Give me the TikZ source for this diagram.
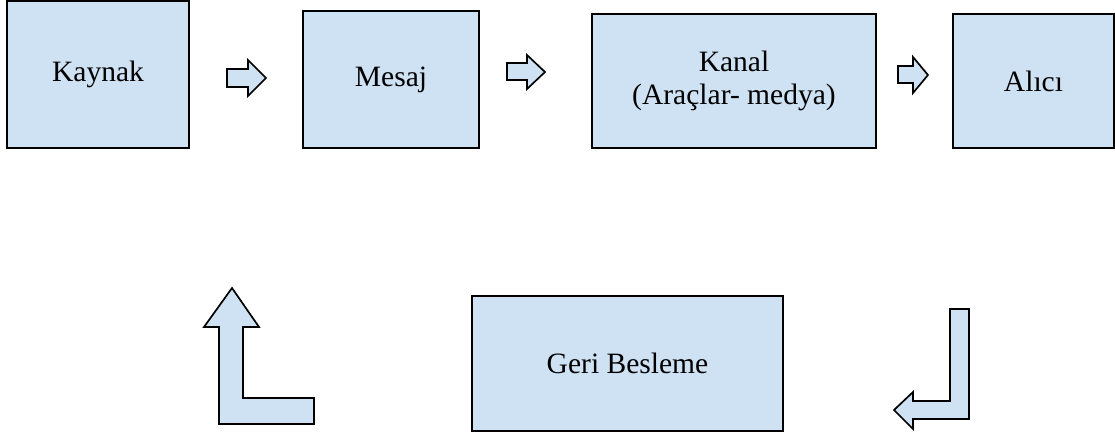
\documentclass[tikz,border=0pt]{standalone}
\usepackage{fontspec}
\setmainfont{Liberation Serif}
\definecolor{boxblue}{RGB}{207,226,243}

\begin{document}
\begin{tikzpicture}[x=0.025cm,y=-0.025cm,line width=1.4pt,
  main node/.style={rectangle,draw,fill=boxblue,align=center,inner sep=0pt,
    font=\fontsize{21}{23.5}\selectfont},
  block arrow/.style={draw,fill=boxblue,line join=miter,line width=1.2pt}]
  \useasboundingbox (0,0) rectangle (1115,436);
  \node[main node, minimum width=4.55cm, minimum height=3.675cm] (kaynak) at (98, 74.5) {Kaynak};
  \node[main node, minimum width=4.4cm, minimum height=3.425cm] (mesaj) at (391, 79.5) {Mesaj};
  \node[main node, minimum width=7.1cm, minimum height=3.35cm] (kanal) at (734, 81) {Kanal\\(Araçlar- medya)};
  \node[main node, minimum width=4.025cm, minimum height=3.35cm] (alici) at (1033.5, 81) {Alıcı};
  \node[main node, minimum width=7.775cm, minimum height=3.375cm] (geri) at (627.5, 363.5) {Geri Besleme};
  % right arrows
  \draw[block arrow] (227,69) -- (248,69) -- (248,60) -- (266,78) -- (248,96) -- (248,87) -- (227,87) -- cycle;
  \draw[block arrow] (507,63) -- (527,63) -- (527,55) -- (545,72) -- (527,89) -- (527,80) -- (507,80) -- cycle;
  \draw[block arrow] (898,66) -- (913,66) -- (913,57) -- (928,75) -- (913,93) -- (913,83) -- (898,83) -- cycle;
  % feedback arrows
  \draw[block arrow] (950,309) -- (969,309) -- (969,419) -- (913,419) -- (913,429) -- (894,410) -- (913,392) -- (913,401) -- (950,401) -- cycle;
  \draw[block arrow] (232,288) -- (259,327) -- (243,327) -- (243,398) -- (314,398) -- (314,424) -- (219,424) -- (219,327) -- (204,327) -- cycle;
\end{tikzpicture}
\end{document}
